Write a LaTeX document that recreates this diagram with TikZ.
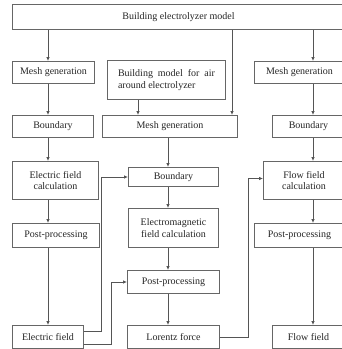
\documentclass[tikz,border=0pt]{standalone}
\usepackage{fontspec}
\setmainfont{Liberation Serif}
\usetikzlibrary{arrows.meta,positioning}
\definecolor{ink}{HTML}{555555}
\tikzset{
  >={Latex[length=4pt,width=3.6pt]},
  every node/.style={font=\fontsize{10}{11.5}\selectfont,text=black!85},
  box/.style={draw=ink!90,line width=1pt,fill=white,align=center,inner sep=2pt,anchor=north west},
  arrow/.style={->,line width=0.9pt,draw=ink},
}

\begin{document}
\begin{tikzpicture}[x=1pt,y=-1pt]
\useasboundingbox (0,0) rectangle (342,349);
\clip (0,0) rectangle (342,349);

\node[box,minimum width=332pt,minimum height=25pt] (model) at (12,4) {Building electrolyzer model};

% left column: electric field
\node[box,minimum width=82pt,minimum height=22pt] (meshL) at (12,61) {Mesh generation};
\node[box,minimum width=81pt,minimum height=22pt] (bndL) at (12,115) {Boundary};
\node[box,minimum width=86pt,minimum height=38pt] (calcL) at (12,161) {Electric field\\calculation};
\node[box,minimum width=87pt,minimum height=24pt] (postL) at (12,223) {Post-processing};
\node[box,minimum width=71pt,minimum height=23pt] (efield) at (12,325) {Electric field};

% middle column: air + electromagnetic field
\node[box,minimum width=118pt,minimum height=39pt,align=left] (air) at (107,60) {\makebox[97pt][s]{Building model for air}\\around electrolyzer};
\node[box,minimum width=135pt,minimum height=22pt] (meshM) at (102,115) {Mesh generation};
\node[box,minimum width=90pt,minimum height=19pt] (bndM) at (128,167) {Boundary};
\node[box,minimum width=90pt,minimum height=39pt] (calcM) at (128,208) {Electromagnetic\\field calculation};
\node[box,minimum width=92pt,minimum height=23pt] (postM) at (127,270) {Post-processing};
\node[box,minimum width=92pt,minimum height=23pt] (lorentz) at (127,325) {Lorentz force};

% right column: flow field
\node[box,minimum width=90pt,minimum height=22pt] (meshR) at (254,61) {Mesh generation};
\node[box,minimum width=72pt,minimum height=22pt] (bndR) at (272,115) {Boundary};
\node[box,minimum width=81pt,minimum height=38pt] (calcR) at (263,161) {Flow field\\calculation};
\node[box,minimum width=90pt,minimum height=24pt] (postR) at (254,223) {Post-processing};
\node[box,minimum width=72pt,minimum height=23pt] (flow) at (272,325) {Flow field};

\coordinate (cl) at (48,0);
\coordinate (cm) at (168,0);
\coordinate (ca) at (138,0);
\coordinate (cb) at (232,0);
\coordinate (cr) at (313,0);

\draw[arrow] (model.south -| cl) -- (meshL.north -| cl);
\draw[arrow] (meshL.south -| cl) -- (bndL.north -| cl);
\draw[arrow] (bndL.south -| cl) -- (calcL.north -| cl);
\draw[arrow] (calcL.south -| cl) -- (postL.north -| cl);
\draw[arrow] (postL.south -| cl) -- (efield.north -| cl);

\draw[arrow] (model.south -| cb) -- (meshM.north -| cb);
\draw[arrow] (air.south -| ca) -- (meshM.north -| ca);
\draw[arrow] (meshM.south -| cm) -- (bndM.north -| cm);
\draw[arrow] (bndM.south -| cm) -- (calcM.north -| cm);
\draw[arrow] (calcM.south -| cm) -- (postM.north -| cm);
\draw[arrow] (postM.south -| cm) -- (lorentz.north -| cm);

\draw[arrow] (model.south -| cr) -- (meshR.north -| cr);
\draw[arrow] (meshR.south -| cr) -- (bndR.north -| cr);
\draw[arrow] (bndR.south -| cr) -- (calcR.north -| cr);
\draw[arrow] (calcR.south -| cr) -- (postR.north -| cr);
\draw[arrow] (postR.south -| cr) -- (flow.north -| cr);

% coupling
\draw[arrow] ([yshift=6pt]efield.east) -- ++(17,0) |- (bndM.west);
\draw[arrow] ([yshift=-7.5pt]efield.east) -- ++(27,0) |- (postM.west);
\draw[arrow] (lorentz.east) -- ++(28,0) |- ([yshift=2pt]calcR.west);

\end{tikzpicture}
\end{document}
